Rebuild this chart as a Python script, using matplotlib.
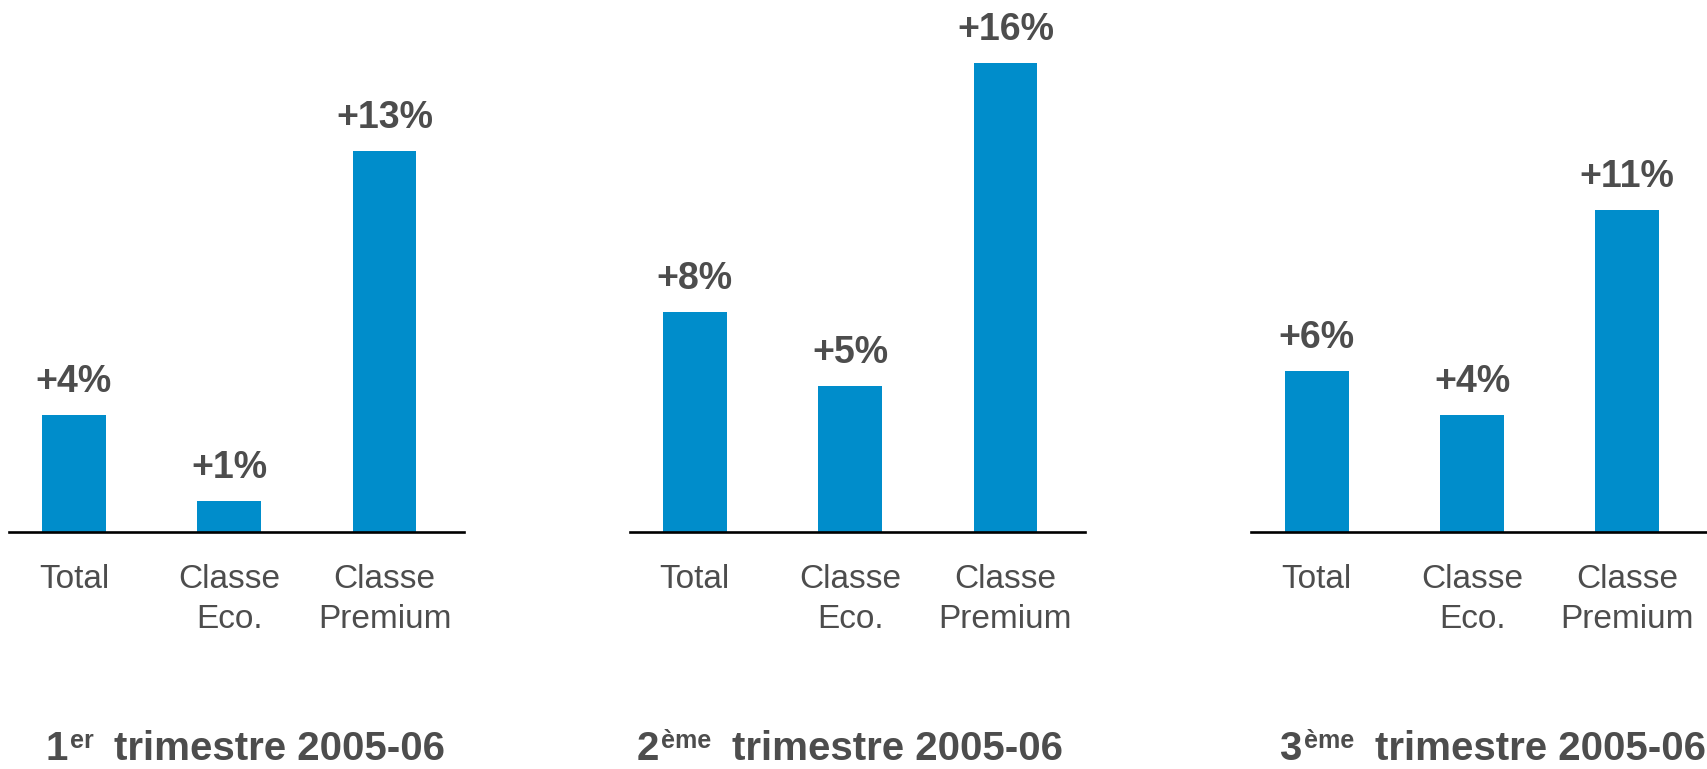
import matplotlib
matplotlib.use("Agg")
import matplotlib.pyplot as plt

# growth by class, per quarter of 2005-06
categories = ["Total", "Classe\nEco.", "Classe\nPremium"]
q1_values = [4.0, 1.05, 13.0]
q2_values = [7.5, 5.0, 16.0]
q3_values = [5.5, 4.0, 11.0]
q1_labels = ["+4%", "+1%", "+13%"]
q2_labels = ["+8%", "+5%", "+16%"]
q3_labels = ["+6%", "+4%", "+11%"]
quarter_numbers = ["1", "2", "3"]
quarter_suffixes = ["er", "ème", "ème"]
quarter_title = "trimestre 2005-06"

BLUE = "#008DCB"
GREY = "#4D4D4D"
W, H = 1708, 769

plt.rcParams["font.family"] = ["Liberation Sans", "DejaVu Sans"]

fig = plt.figure(figsize=(W / 100, H / 100), dpi=100)

panel_left = [8.7, 629.6, 1251.5]     # px
panel_width = 455.0
base_y = 532.0                          # px from top
title_x = [0.26, 0.24, 0.376]           # data x of "trimestre" left edge

values = [q1_values, q2_values, q3_values]
labels = [q1_labels, q2_labels, q3_labels]
axes = []
for k in range(3):
    ax = fig.add_axes([panel_left[k] / W, (H - base_y) / H, panel_width / W, base_y / H])
    xs = range(len(categories))
    ax.bar(xs, values[k], width=0.41, color=BLUE, zorder=2)
    for x, v, lab in zip(xs, values[k], labels[k]):
        ax.annotate(lab, xy=(x, v), xytext=(0, 23), textcoords="offset pixels",
                    ha="center", va="baseline", fontsize=27, fontweight="bold", color=GREY)
    ax.set_xlim(-0.42, 2.51)
    ax.set_ylim(0, 18.16)
    ax.set_xticks(list(xs))
    ax.set_xticklabels(categories, fontsize=24, color=GREY, linespacing=1.38)
    ax.tick_params(axis="x", length=0, pad=23)
    ax.set_yticks([])
    for s in ["top", "left", "right"]:
        ax.spines[s].set_visible(False)
    ax.spines["bottom"].set_linewidth(1.9)
    ax.spines["bottom"].set_zorder(3)
    ax.patch.set_alpha(0)
    axes.append(ax)

# quarter titles: number + superscript + text
sups = []
for k, ax in enumerate(axes):
    ax.annotate(quarter_title, xy=(title_x[k], 0), xycoords=("data", "axes fraction"),
                xytext=(0, -228), textcoords="offset pixels", ha="left", va="baseline",
                fontsize=29, fontweight="bold", color=GREY, annotation_clip=False)
    s = ax.annotate(quarter_suffixes[k], xy=(title_x[k], 0), xycoords=("data", "axes fraction"),
                    xytext=(-21, -216), textcoords="offset pixels", ha="right", va="baseline",
                    fontsize=18, fontweight="bold", color=GREY, annotation_clip=False)
    sups.append(s)

fig.canvas.draw()
renderer = fig.canvas.get_renderer()
for k, ax in enumerate(axes):
    w = sups[k].get_window_extent(renderer).width
    ax.annotate(quarter_numbers[k], xy=(title_x[k], 0), xycoords=("data", "axes fraction"),
                xytext=(-21 - w - 2, -228), textcoords="offset pixels", ha="right", va="baseline",
                fontsize=29, fontweight="bold", color=GREY, annotation_clip=False)

fig.savefig("out.png", dpi=100)
